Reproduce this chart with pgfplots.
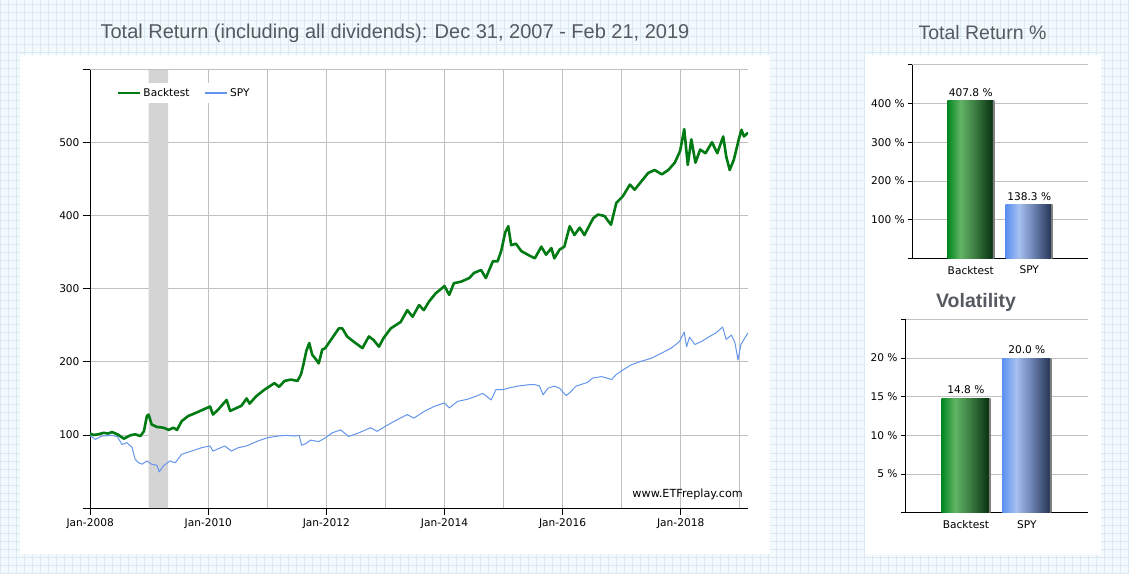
\documentclass[border=0pt]{standalone}
\usepackage{pgfplots}
\pgfplotsset{compat=1.18}
\usepackage{fontspec}
\setmainfont{DejaVu Sans}
\newfontfamily\titlefont{Liberation Sans}
\definecolor{bgc}{HTML}{F3FAFD}
\definecolor{bggrid}{HTML}{DCE8F2}
\definecolor{gridc}{HTML}{C0C0C0}
\definecolor{titlegray}{HTML}{555A60}
\definecolor{btgreen}{HTML}{007A12}
\definecolor{spyblue}{HTML}{6495ED}
\definecolor{recess}{HTML}{D4D4D4}
\definecolor{gA}{HTML}{00861F}
\definecolor{gB}{HTML}{62B465}
\definecolor{gC}{HTML}{3A7A40}
\definecolor{gD}{HTML}{0A3412}
\definecolor{bA}{HTML}{5B8FF0}
\definecolor{bB}{HTML}{A6C0F0}
\definecolor{bC}{HTML}{6A80B0}
\definecolor{bD}{HTML}{283858}
\definecolor{shd}{HTML}{808080}
\pgfdeclarehorizontalshading{greenbar}{100bp}{color(0bp)=(gA); color(25bp)=(gA); color(39bp)=(gB); color(55bp)=(gC); color(72.6bp)=(gD); color(73bp)=(shd); color(100bp)=(shd)}
\pgfdeclarehorizontalshading{bluebar}{100bp}{color(0bp)=(bA); color(25bp)=(bA); color(39bp)=(bB); color(55bp)=(bC); color(72.6bp)=(bD); color(73bp)=(shd); color(100bp)=(shd)}
\newcommand{\smallf}{\fontsize{10.6}{12}\selectfont}
\begin{document}
\begin{tikzpicture}[x=1pt,y=1pt]
\useasboundingbox (0,0) rectangle (1129,573);
\fill[bgc] (0,0) rectangle (1129,573);
\draw[bggrid, line width=1pt] (0,0) grid[step=8] (1129,573);
\fill[white] (20,19) rectangle (770,518);
\fill[white] (865,18) rectangle (1100.5,518);
\node[font=\titlefont\fontsize{20}{24}\selectfont, text=titlegray] at (395,540) {Total Return (including all dividends): Dec 31, 2007 - Feb 21, 2019};
\node[font=\titlefont\fontsize{19.5}{23}\selectfont, text=titlegray] at (982.5,540) {Total Return \%};
\node[font=\titlefont\bfseries\fontsize{19.5}{23}\selectfont, text=titlegray] at (976,271) {Volatility};

\begin{axis}[
 at={(90pt,65pt)}, anchor=south west, scale only axis, width=658pt, height=438pt,
 xmin=2007.997, xmax=2019.14, ymin=0, ymax=600,
 axis x line*=bottom, axis y line*=left,
 axis line style={black, line width=1pt, -},
 xtick={2008,2010,...,2018}, xticklabels={Jan-2008,Jan-2010,Jan-2012,Jan-2014,Jan-2016,Jan-2018},
 minor xtick={2009,2011,...,2019},
 ytick={0,100,...,600}, yticklabels={,100,200,300,400,500,},
 xmajorgrids, xminorgrids, ymajorgrids,
 grid style={gridc, line width=1pt},
 minor grid style={gridc, line width=1pt},
 tick align=outside, major tick length=7pt, minor tick length=0pt,
 tick style={black, line width=1pt},
 ticklabel style={font=\smallf},
 legend style={at={(0.036,0.97)}, anchor=north west, draw=none, fill=white, font=\smallf, inner sep=3pt,
   /tikz/every even column/.append style={column sep=12pt}},
 legend columns=2,
 legend image code/.code={\draw[#1, line width=2.6pt] (0pt,0pt) -- (22pt,0pt);},
]
\addplot[draw=none, fill=recess, forget plot] coordinates {(2008.99,0) (2008.99,600) (2009.32,600) (2009.32,0)} \closedcycle;
\addplot[btgreen, line width=2.6pt, line join=round] coordinates {
(2007.997,102) (2008.06,100) (2008.14,101) (2008.23,103) (2008.30,102) (2008.37,104) (2008.46,101) (2008.57,95) (2008.68,99.5) (2008.76,101) (2008.85,98.6) (2008.91,105) (2008.96,126) (2008.99,128)
(2009.04,114.5) (2009.13,111) (2009.24,110) (2009.33,107) (2009.41,110) (2009.47,107) (2009.55,119) (2009.66,126) (2009.78,130) (2009.92,135)
(2010.03,139) (2010.08,128) (2010.17,135) (2010.31,148) (2010.37,133) (2010.48,137) (2010.56,140) (2010.65,150) (2010.70,143) (2010.81,153) (2010.95,162)
(2011.12,171) (2011.20,166) (2011.29,174) (2011.40,176) (2011.51,174) (2011.57,183) (2011.61,196) (2011.66,215) (2011.71,226) (2011.76,210) (2011.82,204) (2011.87,198) (2011.93,217) (2011.98,219)
(2012.10,233) (2012.21,246) (2012.27,246) (2012.35,235) (2012.46,228) (2012.61,219) (2012.72,235) (2012.80,230) (2012.89,221) (2012.97,233)
(2013.09,246) (2013.26,255) (2013.37,271) (2013.46,262) (2013.57,278) (2013.65,271) (2013.74,283) (2013.85,294)
(2014.00,304) (2014.08,292) (2014.16,308) (2014.28,310) (2014.42,315) (2014.50,322) (2014.62,326) (2014.70,315) (2014.82,338) (2014.90,338) (2014.96,352)
(2015.03,378) (2015.08,386) (2015.13,360) (2015.21,362) (2015.30,352) (2015.41,347) (2015.53,342) (2015.64,358) (2015.72,347) (2015.81,356) (2015.86,342) (2015.95,354)
(2016.03,358) (2016.12,386) (2016.20,374) (2016.29,384) (2016.37,374) (2016.46,388) (2016.52,397) (2016.60,402) (2016.71,400) (2016.82,388) (2016.91,418)
(2017.02,427) (2017.14,443) (2017.22,436) (2017.31,445) (2017.45,459) (2017.56,463) (2017.68,457) (2017.79,463) (2017.90,473) (2017.99,489)
(2018.06,519) (2018.12,470) (2018.18,505) (2018.25,473) (2018.33,491) (2018.42,486) (2018.53,501) (2018.62,486) (2018.72,509) (2018.77,482) (2018.83,463) (2018.90,477) (2018.99,507)
(2019.03,518) (2019.07,509) (2019.14,514)};
\addlegendentry{Backtest}
\addplot[spyblue, line width=1pt, line join=round] coordinates {
(2007.997,99) (2008.09,94) (2008.20,98.6) (2008.37,99.5) (2008.46,97.7) (2008.54,87) (2008.62,89.5) (2008.71,83) (2008.76,67) (2008.82,62) (2008.88,60) (2008.96,64.5)
(2009.04,60) (2009.13,58.6) (2009.17,49.5) (2009.24,57.7) (2009.35,64.5) (2009.44,62) (2009.55,73.6) (2009.72,78) (2009.89,82.7)
(2010.03,85) (2010.08,78) (2010.28,85) (2010.39,78) (2010.51,82.7) (2010.65,85) (2010.84,91.8)
(2011.01,96.4) (2011.18,98.6) (2011.32,99.5) (2011.46,98.6) (2011.54,99.5) (2011.58,86) (2011.65,88) (2011.73,93) (2011.87,91) (2011.98,96)
(2012.10,103) (2012.24,107) (2012.38,98) (2012.55,103) (2012.75,110) (2012.86,105)
(2013.00,112) (2013.20,121) (2013.37,128) (2013.48,123) (2013.65,132) (2013.82,139)
(2014.00,144) (2014.08,137) (2014.22,146) (2014.39,149) (2014.53,153) (2014.65,157) (2014.79,148) (2014.87,162) (2014.99,162)
(2015.07,164) (2015.24,167) (2015.44,169) (2015.53,169) (2015.61,167) (2015.67,155) (2015.75,164) (2015.86,167) (2015.95,164)
(2016.06,154) (2016.12,158) (2016.23,167) (2016.42,172) (2016.51,178) (2016.66,180) (2016.83,176) (2016.91,183)
(2017.02,189) (2017.16,196) (2017.33,201) (2017.50,205) (2017.67,212) (2017.84,219) (2017.98,228)
(2018.06,241) (2018.10,221) (2018.15,234) (2018.24,224) (2018.35,228) (2018.49,235) (2018.60,240) (2018.71,248) (2018.77,231) (2018.86,237) (2018.92,226) (2018.97,203)
(2019.02,224) (2019.14,240)};
\addlegendentry{SPY}
\node[anchor=south east, font=\fontsize{11.2}{13}\selectfont, inner sep=1pt] at (rel axis cs:0.994,0.015) {www.ETFreplay.com};
\end{axis}

\begin{axis}[
 at={(912.3pt,314.5pt)}, anchor=south west, scale only axis, width=175.4pt, height=193.5pt,
 xmin=-1, xmax=2, ymin=0, ymax=500,
 axis x line*=bottom, axis y line*=left, axis line style={black, line width=1pt, -},
 ytick={0,100,...,500}, yticklabels={,100 \%,200 \%,300 \%,400 \%,},
 ymajorgrids, grid style={gridc, line width=1pt},
 xtick={0,1}, xticklabels={Backtest,SPY},
 x tick style={draw=none}, y tick style={black, line width=1pt},
 tick align=outside, major tick length=4pt,
 ticklabel style={font=\smallf},
 ybar, bar width=47pt, bar shift=0pt,
 nodes near coords, point meta=explicit symbolic,
 nodes near coords style={font=\smallf, anchor=south, inner sep=4pt},
]
\addplot[shade, shading=greenbar, draw=none] coordinates {(0,407.8) [407.8 \%]};
\addplot[shade, shading=bluebar, draw=none] coordinates {(1,138.3) [138.3 \%]};
\end{axis}

\begin{axis}[
 at={(905pt,60.2pt)}, anchor=south west, scale only axis, width=182.7pt, height=193.5pt,
 xmin=-1, xmax=2, ymin=0, ymax=25,
 axis x line*=bottom, axis y line*=left, axis line style={black, line width=1pt, -},
 ytick={0,5,...,25}, yticklabels={,5 \%,10 \%,15 \%,20 \%,},
 ymajorgrids, grid style={gridc, line width=1pt},
 xtick={0,1}, xticklabels={Backtest,SPY},
 x tick style={draw=none}, y tick style={black, line width=1pt},
 tick align=outside, major tick length=4pt,
 ticklabel style={font=\smallf},
 ybar, bar width=49.3pt, bar shift=0pt,
 nodes near coords, point meta=explicit symbolic,
 nodes near coords style={font=\smallf, anchor=south, inner sep=4pt},
]
\addplot[shade, shading=greenbar, draw=none] coordinates {(0,14.8) [14.8 \%]};
\addplot[shade, shading=bluebar, draw=none] coordinates {(1,20.0) [20.0 \%]};
\end{axis}
\end{tikzpicture}
\end{document}
